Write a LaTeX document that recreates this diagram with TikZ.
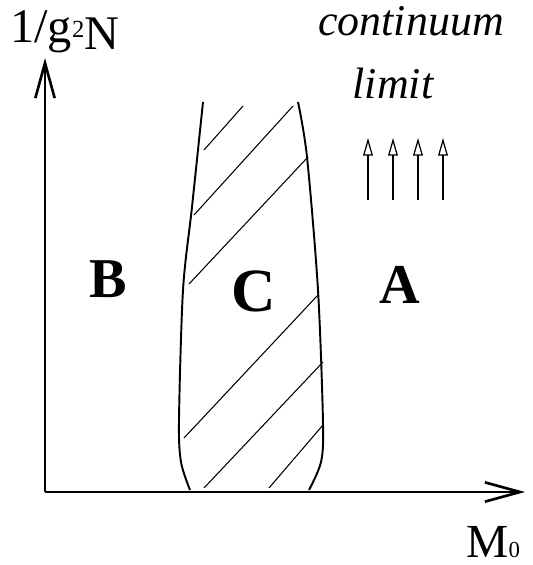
\documentclass[tikz,border=0pt]{standalone}
\usepackage{fontspec}
\setmainfont{Liberation Serif}
\usetikzlibrary{arrows.meta,positioning}
\tikzset{
  axis/.style={line width=1.5pt,-{Straight Barb[length=20pt,width=11pt]}},
  edge/.style={line width=1.1pt},
  hatch/.style={line width=0.6pt},
  flow/.style={line width=0.7pt,-{Triangle[open,length=10pt,width=5.5pt]}},
  region/.style={font=\fontsize{32}{36}\selectfont\bfseries,inner sep=0,anchor=base},
  italic/.style={font=\fontsize{25}{30}\selectfont\itshape,inner sep=0,anchor=base}
}

\begin{document}
\begin{tikzpicture}[x=0.02cm,y=-0.02cm]
\useasboundingbox (0,0) rectangle (532,565);
% axes
\coordinate (origin) at (45,492);
\coordinate (ytop) at (45,58);
\coordinate (xend) at (525,492);
\draw[axis] (origin) -- (ytop);
\draw[axis] (origin) -- (xend);
\node[inner sep=0,anchor=base west] (ylabel) at (10,42)
  {\fontsize{27.5}{30}\selectfont 1/g\raisebox{2.3pt}{\fontsize{14}{16}\selectfont 2}\raisebox{-4.5pt}{N}};
\node[inner sep=0,anchor=base west] (xlabel) at (466,557)
  {\fontsize{27}{30}\selectfont M{\fontsize{13}{15}\selectfont 0}};
% region C
\draw[edge] plot[smooth] coordinates {(203,102) (192,207) (183,290) (179,420) (181,462) (190,490)};
\draw[edge] plot[smooth] coordinates {(298,102) (307,157) (318,290) (323,423) (321,462) (309,490)};
\draw[hatch] (204,150) -- (243,106);
\draw[hatch] (194,215) -- (293,106);
\draw[hatch] (189,284) -- (308,157);
\draw[hatch] (184,438) -- (318,295);
\draw[hatch] (204,488) -- (323,362);
\draw[hatch] (269,488) -- (323,425);
% labels
\node[region] (B) at (108,297) {B};
\node[region,font=\fontsize{35}{40}\selectfont\bfseries] (C) at (254,311) {C};
\node[region] (A) at (400,303) {A};
\node[italic] (cont) at (411,35) {continuum};
\node[italic] (lim) at (393,98) {limit};
% continuum limit arrows
\foreach \x [count=\i] in {368,393,418,443} {
  \coordinate (f\i) at (\x,200);
  \coordinate (t\i) at (\x,138);
  \draw[flow] (f\i) -- (t\i);
}
\end{tikzpicture}
\end{document}
